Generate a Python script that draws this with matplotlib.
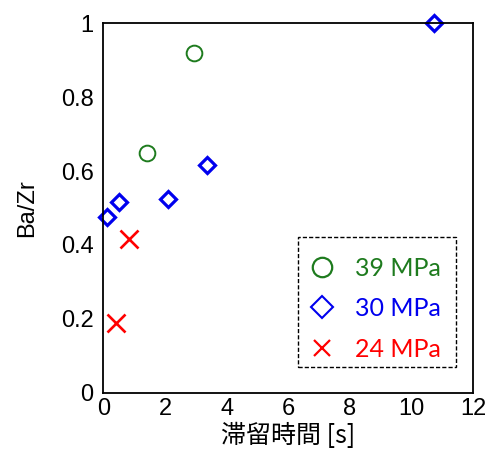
import matplotlib.pyplot as plt
from matplotlib.patches import Rectangle

plt.rcParams['font.family'] = ['Liberation Sans', 'Noto Sans CJK JP']

# 39 MPa
t39 = [1.43, 2.94]
r39 = [0.648, 0.919]
# 30 MPa
t30 = [0.11, 0.52, 2.11, 3.37, 10.73]
r30 = [0.476, 0.515, 0.524, 0.616, 1.0]
# 24 MPa
t24 = [0.41, 0.84]
r24 = [0.188, 0.415]

labels = ['39 MPa', '30 MPa', '24 MPa']
colors = ['#1e7b1e', '#0000ee', '#ff0000']

fig = plt.figure(figsize=(4.91, 4.59), dpi=100)
ax = fig.add_axes([0.2104, 0.1444, 0.7536, 0.8048])

ax.plot(t39, r39, 'o', ms=11.3, mfc='none', mec=colors[0], mew=1.4, label=labels[0], clip_on=False)
ax.plot(t30, r30, 'D', ms=8.5, mfc='none', mec=colors[1], mew=2.3, label=labels[1], clip_on=False)
ax.plot(t24, r24, 'x', ms=13, mec=colors[2], mew=1.9, label=labels[2], clip_on=False)

ax.set_xlim(0, 12)
ax.set_ylim(0, 1)
ax.set_xticks([0, 2, 4, 6, 8, 10, 12])
ax.set_yticks([0, 0.2, 0.4, 0.6, 0.8, 1])
ax.set_yticklabels(['0', '0.2', '0.4', '0.6', '0.8', '1'])
ax.tick_params(length=0, labelsize=17)
ax.tick_params(axis='x', pad=3.5)
ax.tick_params(axis='y', pad=7)
for s in ax.spines.values():
    s.set_linewidth(1.3)

ax.set_xlabel('滞留時間 [s]', fontsize=18, labelpad=2, family=['Noto Sans CJK JP'])
ax.set_ylabel('Ba/Zr', fontsize=17, labelpad=16)

leg = ax.legend(loc='upper left', bbox_to_anchor=(0.526, 0.4025), prop={'family': 'Lato', 'size': 18},
                frameon=False, handlelength=0.92, handletextpad=0.86, labelspacing=0.7,
                borderpad=0.5, borderaxespad=0)
for txt, c in zip(leg.get_texts(), colors):
    txt.set_color(c)
h = leg.legend_handles
h[0].set_markersize(14)
h[0].set_markeredgewidth(1.6)
h[1].set_markersize(11)
h[1].set_markeredgewidth(1.5)
h[2].set_markersize(11.5)
h[2].set_markeredgewidth(1.6)

box = Rectangle((0.526, 0.0696), 0.427, 0.352, transform=ax.transAxes, fill=False,
                edgecolor='black', linewidth=1.0, linestyle=(0, (3, 1.5)), zorder=5)
ax.add_patch(box)

plt.savefig('out.png', dpi=100)
